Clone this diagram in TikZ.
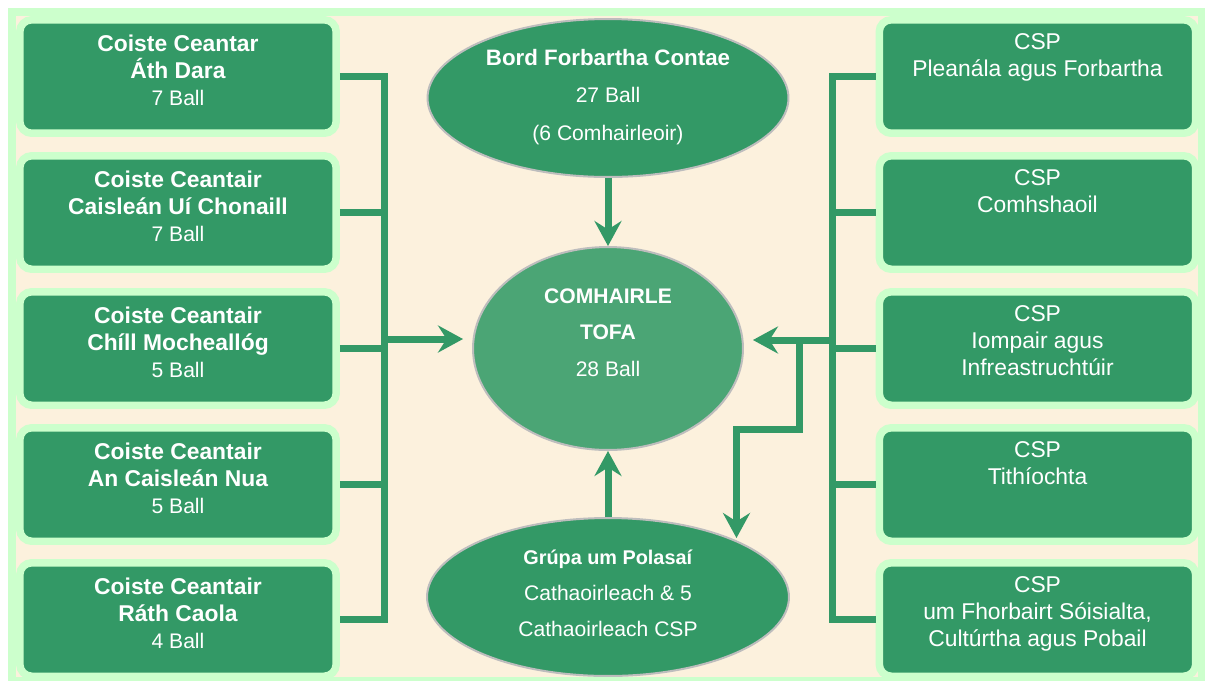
\documentclass[tikz,border=0pt]{standalone}
\usepackage{fontspec}
\setmainfont{Liberation Sans}
\usetikzlibrary{arrows.meta,shapes.geometric}

\definecolor{ringgreen}{HTML}{CCFFCC}
\definecolor{boxgreen}{HTML}{339966}
\definecolor{tofagreen}{HTML}{4BA575}
\definecolor{parchment}{HTML}{FCF1DD}
\definecolor{rimgray}{HTML}{BDBDBD}

\begin{document}
\begin{tikzpicture}[x=0.02cm,y=-0.02cm]

\tikzstyle{box}=[rectangle,rounded corners=0.24cm,fill=boxgreen,draw=ringgreen,line width=0.15cm,minimum width=6.33cm,minimum height=2.27cm,inner sep=0pt];
\tikzstyle{btext}=[text=white,align=center,anchor=north,inner sep=0pt,font=\fontsize{13}{15.3}\selectfont];
\tikzstyle{oval}=[ellipse,fill=boxgreen,draw=rimgray,line width=0.04cm,inner sep=0pt];
\tikzstyle{otext}=[text=white,align=center,inner sep=0pt];
\tikzstyle{conn}=[draw=boxgreen,line width=0.14cm,line join=miter];
\tikzstyle{arr}=[conn,-{Stealth[length=0.5cm,width=0.54cm,inset=0.17cm]}];

\useasboundingbox (0,0) rectangle (1205,681);
\fill[ringgreen] (8,8) rectangle (1205,681);
\fill[parchment] (16,16) rectangle (1198,677);

% coistí ceantair
\node[box] (b1) at (178,76.5) {};
\node[btext] (b1t) at (178,35) {\textbf{Coiste Ceantar}\\\textbf{Áth Dara}\\{\fontsize{12}{15.3}\selectfont 7 Ball}};
\node[box] (b2) at (178,212.5) {};
\node[btext] (b2t) at (178,171) {\textbf{Coiste Ceantair}\\\textbf{Caisleán Uí Chonaill}\\{\fontsize{12}{15.3}\selectfont 7 Ball}};
\node[box] (b3) at (178,348.5) {};
\node[btext] (b3t) at (178,307) {\textbf{Coiste Ceantair}\\\textbf{Chíll Mocheallóg}\\{\fontsize{12}{15.3}\selectfont 5 Ball}};
\node[box] (b4) at (178,484.5) {};
\node[btext] (b4t) at (178,443) {\textbf{Coiste Ceantair}\\\textbf{An Caisleán Nua}\\{\fontsize{12}{15.3}\selectfont 5 Ball}};
\node[box] (b5) at (178,619.5) {};
\node[btext] (b5t) at (178,578) {\textbf{Coiste Ceantair}\\\textbf{Ráth Caola}\\{\fontsize{12}{15.3}\selectfont 4 Ball}};

% CSPanna
\node[box] (c1) at (1037.5,76.5) {};
\node[btext] (c1t) at (1037.5,33) {CSP\\Pleanála agus Forbartha};
\node[box] (c2) at (1037.5,212.5) {};
\node[btext] (c2t) at (1037.5,169) {CSP\\Comhshaoil};
\node[box] (c3) at (1037.5,348.5) {};
\node[btext] (c3t) at (1037.5,305) {CSP\\Iompair agus\\Infreastruchtúir};
\node[box] (c4) at (1037.5,484.5) {};
\node[btext] (c4t) at (1037.5,441) {CSP\\Tithíochta};
\node[box] (c5) at (1037.5,619.5) {};
\node[btext] (c5t) at (1037.5,576) {CSP\\um Fhorbairt Sóisialta,\\Cultúrtha agus Pobail};

% lár
\node[oval,minimum width=7.22cm,minimum height=3.16cm] (bord) at (608,98) {};
\node[otext,font=\fontsize{12}{21.5}\selectfont] (bordt) at (608,97) {{\fontsize{12.7}{21.5}\selectfont\textbf{Bord Forbartha Contae}}\\27 Ball\\(6 Comhairleoir)};
\node[oval,fill=tofagreen,minimum width=5.4cm,minimum height=4.06cm] (tofa) at (608,348.5) {};
\node[otext,font=\fontsize{12}{20.7}\selectfont] (tofat) at (608,332.5) {\textbf{COMHAIRLE}\\\textbf{TOFA}\\28 Ball};
\node[oval,minimum width=7.24cm,minimum height=3.16cm] (grupa) at (608,597) {};
\node[otext,font=\fontsize{12}{20.4}\selectfont] (grupat) at (608,593) {{\fontsize{11.3}{20.4}\selectfont\textbf{Grúpa um Polasaí}}\\Cathaoirleach \& 5\\Cathaoirleach CSP};

\coordinate (lt) at (384,76.5);
\coordinate (lb) at (384,619.5);
\coordinate (la) at (384,339);
\coordinate (rt) at (832,76.5);
\coordinate (rb) at (832,619.5);
\coordinate (ra) at (832,340);
\coordinate (rj) at (799.5,340);
\coordinate (rk) at (736.5,429);
\coordinate (gtip) at (736.5,538);

\draw[conn] (b1.east) -- (lt) -- (lb) -- (b5.east);
\draw[conn] (b2.east) -- (b2.east -| lt);
\draw[conn] (b3.east) -- (b3.east -| lt);
\draw[conn] (b4.east) -- (b4.east -| lt);
\draw[arr,shorten >=0.18cm] (la) -- (la -| tofa.west);

\draw[conn] (c1.west) -- (rt) -- (rb) -- (c5.west);
\draw[conn] (c2.west) -- (c2.west -| rt);
\draw[conn] (c3.west) -- (c3.west -| rt);
\draw[conn] (c4.west) -- (c4.west -| rt);
\draw[arr,shorten >=0.18cm] (ra) -- (ra -| tofa.east);
\draw[arr] (rj) |- (rk) -- (gtip);

\draw[arr] (bord) -- (tofa);
\draw[arr] (grupa) -- (tofa);
\end{tikzpicture}
\end{document}
